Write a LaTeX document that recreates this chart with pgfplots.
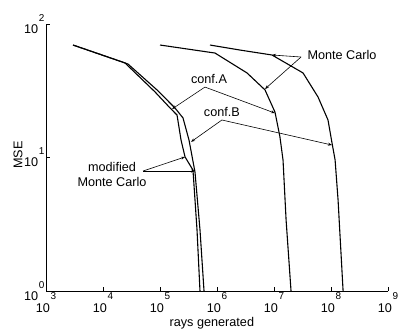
\documentclass[border=0pt]{standalone}
\usepackage{fontspec}
\setmainfont{Liberation Sans}
\usepackage{pgfplots}
\pgfplotsset{compat=1.18}
\usetikzlibrary{arrows.meta}
\newcommand{\tf}{\fontsize{12.7}{15}\selectfont}
\newcommand{\ex}[2][13bp]{\kern0.5bp\raisebox{#1}{\fontsize{10}{10}\selectfont #2}}
\begin{document}
\begin{tikzpicture}[font=\tf]
\begin{axis}[
  xmode=log, ymode=log,
  scale only axis, width=342bp, height=267bp,
  xmin=1e3, xmax=1e9, ymin=1, ymax=100,
  axis x line*=bottom, axis y line*=left,
  axis line style={-, line width=0.8pt},
  xtick={1e3,1e4,1e5,1e6,1e7,1e8,1e9},
  xticklabels={10\ex{3},10\ex{4},10\ex{5},10\ex{6},10\ex{7},10\ex{8},10\ex{9}},
  ytick={1,10,100},
  yticklabels={10\ex[12bp]{0},10\ex[12bp]{1},10\ex[12bp]{2}},
  xminorticks=false, yminorticks=false,
  tick align=inside, major tick length=4bp,
  tick style={black, line width=0.6pt},
  tick label style={font=\tf},
  xticklabel style={inner sep=1.5pt},
  yticklabel style={inner sep=1.5pt},
  clip=false,
]
% modified Monte Carlo, conf.A
\addplot[black, line width=1.1pt] coordinates {
 (2.98e3,69.6) (2.43e4,51.1) (8.17e4,31.0) (1.50e5,23.5) (1.99e5,20.8)
 (2.34e5,13.5) (2.75e5,10.1) (3.79e5,8.05) (4.46e5,2.87) (5.03e5,1)};
% modified Monte Carlo, conf.B
\addplot[black, line width=1.1pt] coordinates {
 (2.98e3,69.6) (2.43e4,51.1) (2.75e4,50.1) (8.85e4,32.1) (1.83e5,23.5) (2.53e5,19.8)
 (3.23e5,13.5) (4.11e5,7.78) (5.03e5,2.87) (5.92e5,1)};
% Monte Carlo, conf.A
\addplot[black, line width=1.1pt] coordinates {
 (1.0e5,69.6) (9.22e5,60.6) (3.36e6,43.0) (6.95e6,32.1) (1.04e7,21.9)
 (1.27e7,14.3) (1.44e7,9.58) (1.63e7,3.40) (1.99e7,1)};
% Monte Carlo, conf.B
\addplot[black, line width=1.1pt] coordinates {
 (7.53e5,69.6) (2.54e6,63.8) (9.2e6,58.6) (3.23e7,43.0) (5.92e7,28.4)
 (8.86e7,19.1) (1.04e8,12.9) (1.18e8,9.58) (1.33e8,4.81) (1.63e8,1)};

% labels
\node[rotate=90] at (rel axis cs:-0.0819,0.509) {MSE};
\node at (rel axis cs:0.485,-0.12) {rays generated};

% annotations
\node at (axis cs:7.24e5,38.7) {conf.A};
\node at (axis cs:1.22e6,21.9) {conf.B};
\node at (axis cs:1.56e8,58.6) {Monte Carlo};
\node at (axis cs:1.44e4,8.49) {modified};
\node at (axis cs:1.44e4,6.55) {Monte Carlo};

\tikzset{lead/.style={line width=0.6pt, -{Stealth[length=4bp,width=3bp]}}}
\draw[lead] (axis cs:6.15e5,33.7) -- (axis cs:1.63e5,23.1);
\draw[lead] (axis cs:6.15e5,33.7) -- (axis cs:1.04e7,21.5);
\draw[lead] (axis cs:1.22e6,19.1) -- (axis cs:3.50e5,13.1);
\draw[lead] (axis cs:1.22e6,19.1) -- (axis cs:1.04e8,12.4);
\draw[lead] (axis cs:2.98e7,56.6) -- (axis cs:9.22e6,58.6);
\draw[lead] (axis cs:2.98e7,56.6) -- (axis cs:6.95e6,32.6);
\draw[lead] (axis cs:5.04e4,7.92) -- (axis cs:2.75e5,10.1);
\draw[lead] (axis cs:5.04e4,7.92) -- (axis cs:4.11e5,7.92);

\path (rel axis cs:-0.1345,-0.1498) rectangle (rel axis cs:1.0351,1.0899);
\end{axis}
\end{tikzpicture}
\end{document}
